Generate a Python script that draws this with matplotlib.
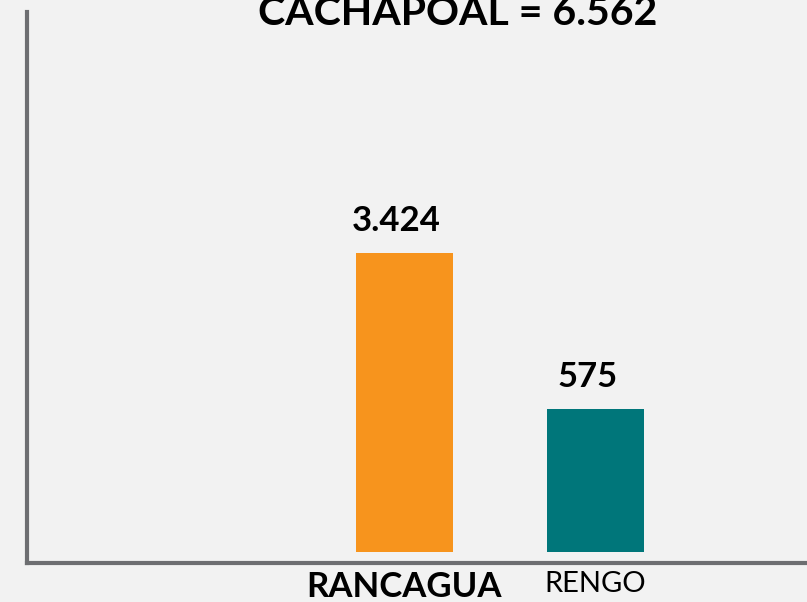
import matplotlib.pyplot as plt

# datos
comunas = ['RANCAGUA', 'RENGO']
valores = [3424, 575]
etiquetas = ['3.424', '575']
colores = ['#f7941d', '#00767a']
titulo = 'CACHAPOAL = 6.562'

plt.rcParams['font.family'] = ['Lato', 'DejaVu Sans']

fig = plt.figure(figsize=(8.07, 6.02), dpi=100, facecolor='#f2f2f2')
ax = fig.add_axes([27 / 807, 39 / 602, 1 - 27 / 807, 551 / 602])
ax.set_facecolor('#f2f2f2')

# las barras no parten desde la linea del eje: se dibujan desde una base desplazada
base = -2036
pos = [1, 2]
alturas = [v - base for v in valores]
ax.bar(pos, alturas, bottom=base, width=0.508, color=colores)

for x, v, t in zip(pos, valores, etiquetas):
    ax.annotate(t, (x, v), xytext=(-6, 16), textcoords='offset points',
                ha='center', va='baseline', fontsize=25, fontweight='bold')

ax.set_xlim(-0.976, 3.107)
ax.set_ylim(base - 11 * 18.26, 3424 + 241 * 18.26)

for s in ['top', 'right']:
    ax.spines[s].set_visible(False)
for s in ['left', 'bottom']:
    ax.spines[s].set_color('#6d6e71')
    ax.spines[s].set_linewidth(3)

ax.set_yticks([])
ax.set_xticks(pos)
ax.set_xticklabels(comunas)
ax.tick_params(axis='x', length=0, pad=6)
lbl = ax.get_xticklabels()
lbl[0].set_fontweight('bold')
lbl[0].set_fontsize(25)
lbl[1].set_fontweight('normal')
lbl[1].set_fontsize(21)

fig.text(458 / 807, 1 - 25 / 602, titulo, ha='center', va='baseline',
         fontsize=29.5, fontweight='bold')

fig.savefig('out.png', dpi=100, facecolor=fig.get_facecolor())
